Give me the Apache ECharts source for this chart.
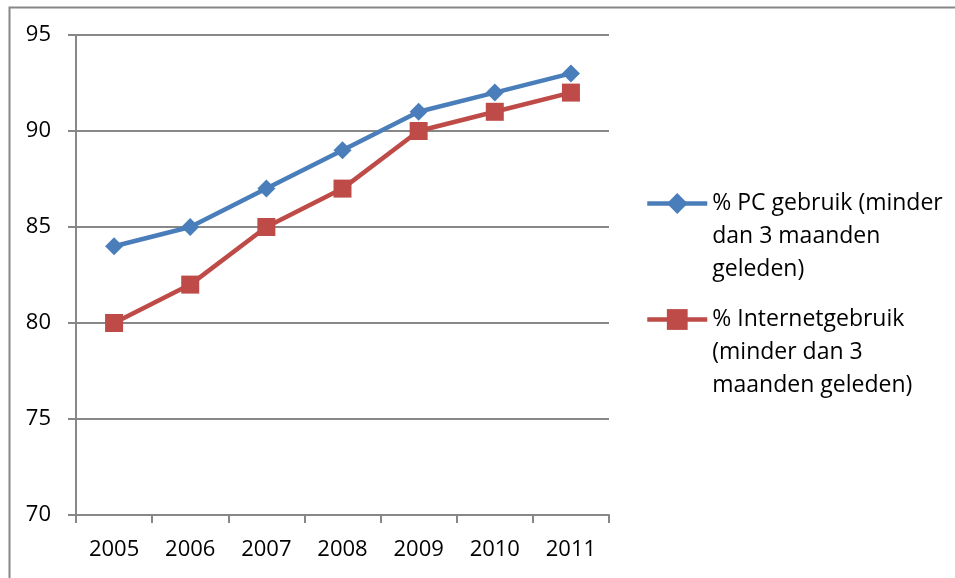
<!DOCTYPE html>
<html><head><meta charset="utf-8">
<script src="https://cdn.jsdelivr.net/npm/echarts@6/dist/echarts.min.js"></script>
<style>html,body{margin:0;padding:0;background:#fff}#c{width:955px;height:578px}</style>
</head><body><div id="c"></div>
<script>
var years = ['2005','2006','2007','2008','2009','2010','2011'];
var pcUse = [84, 85, 87, 89, 91, 92, 93];
var internetUse = [80, 82, 85, 87, 90, 91, 92];
var seriesNames = ['% PC gebruik (minder\ndan 3 maanden\ngeleden)', '% Internetgebruik\n(minder dan 3\nmaanden geleden)'];
var yMin = 70, yMax = 95, yStep = 5;

var FONT = 'Open Sans';
var chart = echarts.init(document.getElementById('c'), null, {renderer: 'canvas'});
chart.setOption({
  animation: false,
  backgroundColor: '#fff',
  graphic: [{
    type: 'rect', left: 7, top: 5,
    shape: {x: 0, y: 0, width: 1000, height: 1000},
    style: {fill: 'none', stroke: '#878787', lineWidth: 2}
  }],
  grid: {left: 76, top: 35, width: 533, height: 480, containLabel: false},
  xAxis: {
    type: 'category', data: years, boundaryGap: true,
    axisLine: {lineStyle: {color: '#878787', width: 2}},
    axisTick: {show: true, length: 8, lineStyle: {color: '#878787', width: 2}},
    axisLabel: {color: '#000', fontFamily: FONT, fontSize: 22, margin: 24}
  },
  yAxis: {
    type: 'value', min: yMin, max: yMax, interval: yStep,
    axisLine: {show: true, lineStyle: {color: '#878787', width: 2}},
    axisTick: {show: true, length: 8, lineStyle: {color: '#878787', width: 2}},
    splitLine: {lineStyle: {color: '#878787', width: 2}},
    axisLabel: {color: '#000', fontFamily: FONT, fontSize: 22, margin: 25}
  },
  legend: {
    orient: 'vertical', left: 645, top: 121, padding: 0,
    itemWidth: 60, itemHeight: 26, itemGap: -49,
    lineStyle: {width: 4.5},
    formatter: function (n) { return '\n\n' + n; },
    textStyle: {color: '#000', fontFamily: FONT, fontSize: 23, lineHeight: 33},
    data: seriesNames
  },
  series: [{
    name: seriesNames[0], type: 'line', data: pcUse,
    symbol: 'diamond', symbolSize: 18,
    lineStyle: {color: '#4A7EBB', width: 4.5},
    itemStyle: {color: '#4A7EBB'}
  }, {
    name: seriesNames[1], type: 'line', data: internetUse,
    symbol: 'rect', symbolSize: 18,
    lineStyle: {color: '#BE4B48', width: 4.5},
    itemStyle: {color: '#BE4B48'}
  }]
});
</script></body></html>
